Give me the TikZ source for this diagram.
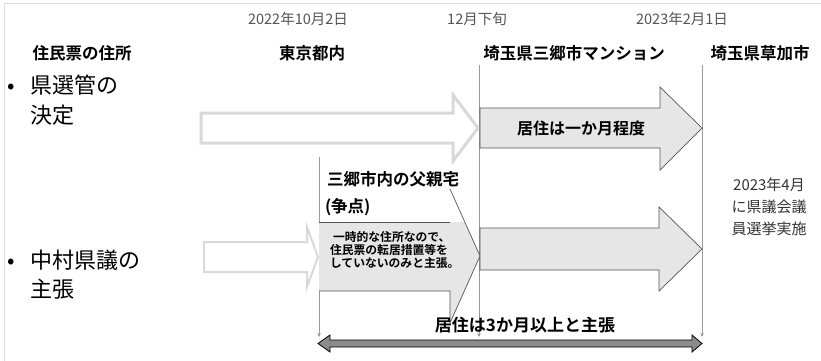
\documentclass[tikz,border=0pt]{standalone}
\usepackage{fontspec}
\setmainfont{Noto Sans CJK JP}[BoldFont={Noto Sans CJK JP Bold}]
\usetikzlibrary{arrows.meta}
\definecolor{datec}{HTML}{555555}
\definecolor{framec}{HTML}{DDDDDD}
\definecolor{ghostc}{HTML}{D9D9D9}
\definecolor{arrfill}{HTML}{E6E6E7}
\definecolor{arredge}{HTML}{555555}
\definecolor{vlinec}{HTML}{999999}
\definecolor{spanfill}{HTML}{8C8C8C}
\definecolor{notec}{HTML}{333333}
\begin{document}
\begin{tikzpicture}[x=1pt,y=-1pt,
  every node/.style={inner sep=0pt,outer sep=0pt},
  datelbl/.style={font=\fontsize{14.5}{14.5}\selectfont,text=datec},
  headlbl/.style={font=\fontsize{16.5}{16.5}\selectfont\bfseries,text=black},
  biglbl/.style={font=\fontsize{22}{22}\selectfont,text=black,anchor=base west},
  smalllbl/.style={font=\fontsize{11.8}{11.8}\selectfont\bfseries,text=black,anchor=west},
  notelbl/.style={font=\fontsize{15}{15}\selectfont,text=notec},
  ghostarrow/.style={draw=ghostc,fill=white,line join=miter},
  greyarrow/.style={draw=arredge,fill=arrfill,line width=0.7pt,line join=miter},
  vline/.style={draw=vlinec,line width=0.8pt,-{Stealth[length=4pt,width=3.5pt]}},
  spanarrow/.style={draw=black,fill=spanfill,line width=0.8pt,line join=miter}
]
\useasboundingbox (0,0) rectangle (821,361);
\fill[white] (0,0) rectangle (821,361);
\draw[framec,line width=1pt] (4,361) -- (4,4) -- (821,4);

% dates
\node[datelbl] (d1) at (298,19) {2022年10月2日};
\node[datelbl] (d2) at (477,19) {12月下旬};
\node[datelbl] (d3) at (682,19) {2023年2月1日};

% headings
\node[headlbl] (hjumin) at (82,53) {住民票の住所};
\node[headlbl] (htokyo) at (312,53) {東京都内};
\node[headlbl] (hmisato) at (574,53) {埼玉県三郷市マンション};
\node[headlbl] (hsoka) at (760,53) {埼玉県草加市};

% left bullets
\node[biglbl] (b1) at (8,93) {•};
\node[biglbl] (l1a) at (30,93) {県選管の};
\node[biglbl] (l1b) at (30,123) {決定};
\node[biglbl] (b2) at (8,268) {•};
\node[biglbl] (l2a) at (30,268) {中村県議の};
\node[biglbl] (l2b) at (30,297) {主張};

% vertical guide lines
\coordinate (v1t) at (319,157);
\coordinate (v1b) at (319,337);
\coordinate (v2t) at (479,65);
\coordinate (v2b) at (479,337);
\coordinate (v3t) at (702,65);
\coordinate (v3b) at (702,337);
\draw[vline] (v1t) -- (v1b);
\draw[vline] (v2t) -- (v2b);
\draw[vline] (v3t) -- (v3b);

% ghost arrow 1 (Tokyo, prefectural decision)
\draw[ghostarrow,line width=3pt] (201,113) -- (453,113) -- (453,95) -- (478,128) -- (453,161) -- (453,143) -- (201,143) -- cycle;

% grey arrow 2 (mansion)
\draw[greyarrow] (480,108) -- (660,108) -- (660,87) -- (702,128) -- (660,170) -- (660,148) -- (480,148) -- cycle;
\node[font=\fontsize{16}{16}\selectfont\bfseries] (t2) at (581,128) {居住は一か月程度};

% ghost arrow 5 (Tokyo, claim)
\draw[ghostarrow,line width=2pt] (204,242) -- (307,242) -- (307,227) -- (318,257) -- (307,287) -- (307,272) -- (204,272) -- cycle;

% grey arrow 3 (father's house)
\begin{scope}
  \clip (0,222) rectangle (821,361);
  \fill[arrfill] (319,222) -- (450,222) -- (450,189) -- (480,256) -- (450,323) -- (450,291) -- (319,291) -- cycle;
\end{scope}
\draw[arredge,line width=0.7pt,line join=miter] (319,222) -- (450,222);
\draw[arredge,line width=0.7pt,line join=miter] (450,189) -- (480,256) -- (450,323) -- (450,291) -- (319,291);
\node[headlbl,anchor=west] (f1) at (327,179) {三郷市内の父親宅};
\node[headlbl,anchor=west] (f2) at (325,207) {(争点)};
\node[smalllbl] (s1) at (333,237) {一時的な住所なので、};
\node[smalllbl] (s2) at (330,250) {住民票の転居措置等を};
\node[smalllbl] (s3) at (330,263) {していないのみと主張。};

% grey arrow 4 (mansion, claim)
\draw[greyarrow] (480,228) -- (659,228) -- (659,207) -- (702,249) -- (659,291) -- (659,270) -- (480,270) -- cycle;

% right note
\node[notelbl] (n1) at (769,185) {2023年4月};
\node[notelbl] (n2) at (769,207) {に県議会議};
\node[notelbl] (n3) at (769,229) {員選挙実施};

% span arrow
\node[font=\fontsize{17}{17}\selectfont\bfseries] (t3) at (525,325) {居住は3か月以上と主張};
\draw[spanarrow] (318,343.5) -- (330,335) -- (330,340) -- (692,340) -- (692,335) -- (702,343.5) -- (692,352) -- (692,347) -- (330,347) -- (330,352) -- cycle;
\end{tikzpicture}
\end{document}
